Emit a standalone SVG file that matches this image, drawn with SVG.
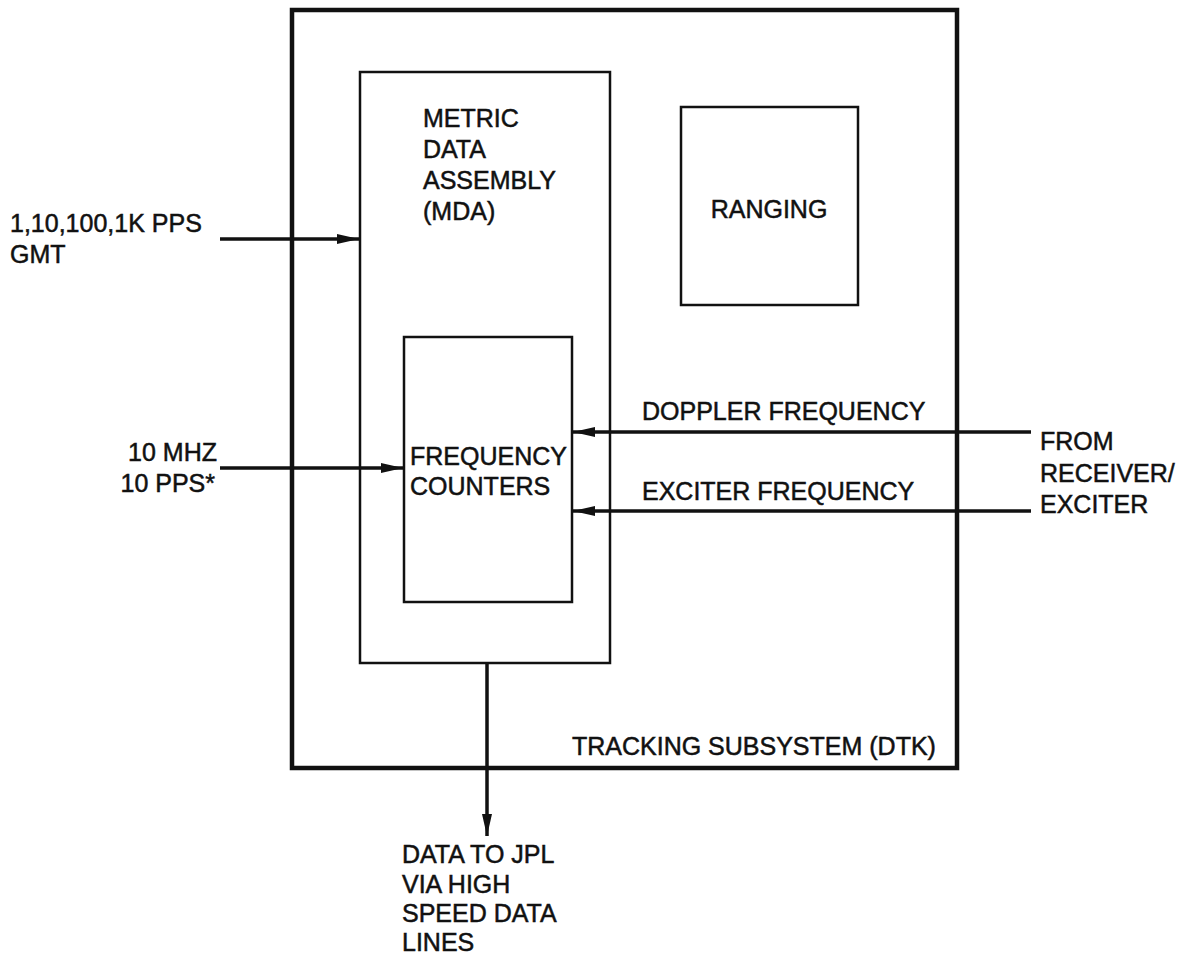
<svg xmlns="http://www.w3.org/2000/svg" width="1177" height="961" viewBox="0 0 1177 961">
<style>
text{font-family:"Liberation Sans",Arial,sans-serif;font-size:25px;fill:#111;stroke:#111;stroke-width:0.5;}
.box{fill:none;stroke:#111;stroke-width:2.5;}
.outer{fill:none;stroke:#111;stroke-width:4.5;}
.ln{stroke:#111;stroke-width:3.5;fill:none;}
</style>
<defs>
<marker id="ah" viewBox="0 0 10 10" refX="10" refY="5" markerWidth="22" markerHeight="10" markerUnits="userSpaceOnUse" orient="auto" preserveAspectRatio="none">
<path d="M0,0 L10,5 L0,10 Z" fill="#111"/>
</marker>
</defs>
<rect width="1177" height="961" fill="#fff"/>
<g id="tracking-subsystem">
<rect class="outer" x="292" y="10" width="665" height="758"/>
<text x="572" y="755">TRACKING SUBSYSTEM (DTK)</text>
</g>
<g id="mda">
<rect class="box" x="360" y="72" width="250" height="591"/>
<text x="423" y="127">METRIC</text>
<text x="423" y="158">DATA</text>
<text x="423" y="189">ASSEMBLY</text>
<text x="423" y="220">(MDA)</text>
</g>
<g id="ranging">
<rect class="box" x="681" y="107" width="177" height="198"/>
<text x="769" y="218" text-anchor="middle">RANGING</text>
</g>
<g id="frequency-counters">
<rect class="box" x="404" y="337" width="168" height="265"/>
<text x="410" y="465">FREQUENCY</text>
<text x="410" y="495">COUNTERS</text>
</g>
<g id="connectors">
<line class="ln" x1="220" y1="239" x2="359" y2="239" marker-end="url(#ah)"/>
<line class="ln" x1="220" y1="468" x2="403" y2="468" marker-end="url(#ah)"/>
<line class="ln" x1="1031" y1="432" x2="573" y2="432" marker-end="url(#ah)"/>
<line class="ln" x1="1031" y1="511" x2="573" y2="511" marker-end="url(#ah)"/>
<line class="ln" x1="487" y1="663" x2="487" y2="836" marker-end="url(#ah)"/>
</g>
<g id="labels">
<text x="10" y="232">1,10,100,1K PPS</text>
<text x="10" y="263">GMT</text>
<text x="217" y="461" text-anchor="end">10 MHZ</text>
<text x="215" y="492" text-anchor="end">10 PPS*</text>
<text x="642" y="420">DOPPLER FREQUENCY</text>
<text x="642" y="500">EXCITER FREQUENCY</text>
<text x="1040" y="450">FROM</text>
<text x="1040" y="482">RECEIVER/</text>
<text x="1040" y="513">EXCITER</text>
<text x="402" y="863">DATA TO JPL</text>
<text x="402" y="893">VIA HIGH</text>
<text x="402" y="922">SPEED DATA</text>
<text x="402" y="951">LINES</text>
</g>
</svg>
